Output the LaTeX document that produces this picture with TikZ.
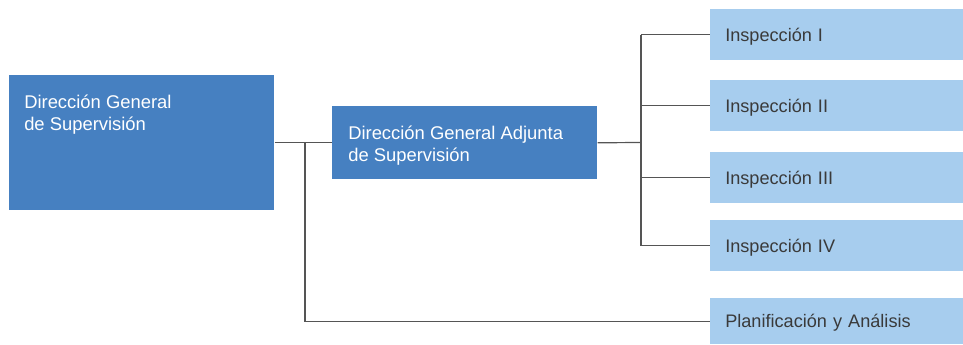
\documentclass[tikz,border=0pt]{standalone}
\usepackage{fontspec}
\setmainfont{Liberation Sans}
\definecolor{dgblue}{HTML}{4680C1}
\definecolor{inblue}{HTML}{A7CDEE}
\definecolor{intext}{HTML}{3A3A3A}
\definecolor{wire}{HTML}{555555}
\tikzstyle{dark box}=[
        fill = dgblue,
        anchor = north west,
        minimum width = 198.75pt,
        inner sep = 0pt
    ]
\tikzstyle{dark text}=[
        text = white,
        anchor = north west,
        align = left,
        inner sep = 0pt,
        font = \fontsize{13.8}{16.8}\selectfont
    ]
\tikzstyle{light box}=[
        fill = inblue,
        text = intext,
        anchor = north west,
        minimum width = 189.75pt,
        minimum height = 38.25pt,
        text width = 167.25pt,
        inner xsep = 11.25pt,
        inner ysep = 0pt,
        text depth = 0pt,
        align = left,
        font = \fontsize{13.6}{16.5}\selectfont
    ]

\begin{document}
\begin{tikzpicture}[x=0.75pt, y=0.75pt, wire/.style = {draw = wire, line width = 0.9pt}]
        \useasboundingbox (0,0) rectangle (963,344);

        \node[dark box, minimum height = 101.25pt] (dgs) at (9,269) {};
        \node[dark text] (dgstext) at ([shift={(15,-19.5)}]dgs.north west) {Dirección General\\de Supervisión};

        \node[dark box, minimum height = 54.75pt] (dga) at (332,238) {};
        \node[dark text] (dgatext) at ([shift={(16,-19.5)}]dga.north west) {Dirección General Adjunta\\de Supervisión};

        \node[light box] (ins1) at (710,335) {Inspección I};
        \node[light box] (ins2) at (710,264) {Inspección II};
        \node[light box] (ins3) at (710,192) {Inspección III};
        \node[light box] (ins4) at (710,124) {Inspección IV};
        \node[light box, minimum height = 34.5pt] (plan) at (710,46) {Planificación y Análisis};

        \coordinate (split) at (305,201.5);
        \coordinate (bus) at (641,201.5);

        \draw[wire] (dgs.east) -- (dga.west);
        \draw[wire] (split) |- (plan.west);
        \draw[wire] (dga.east) -- (bus);
        \draw[wire] (bus |- ins1.west) -- (bus |- ins4.west);
        \draw[wire] (bus |- ins1.west) -- (ins1.west);
        \draw[wire] (bus |- ins2.west) -- (ins2.west);
        \draw[wire] (bus |- ins3.west) -- (ins3.west);
        \draw[wire] (bus |- ins4.west) -- (ins4.west);

    \end{tikzpicture}
\end{document}
